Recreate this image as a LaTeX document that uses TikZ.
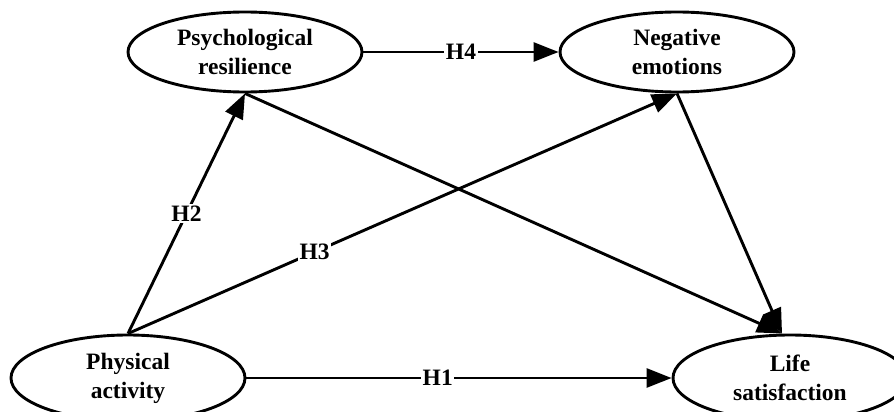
\documentclass[tikz,border=0pt]{standalone}
\usepackage{fontspec}
\setmainfont{Liberation Serif}
\usetikzlibrary{shapes.geometric,arrows.meta}
\begin{document}
\begin{tikzpicture}[x=1pt,y=-1pt,
  latent/.style={ellipse,draw,line width=2.9pt,minimum width=234pt,minimum height=80pt,inner sep=0pt,align=center,font=\fontsize{23.5}{29}\selectfont\bfseries},
  conn/.style={line width=2.9pt,-{Triangle[length=25pt,width=19pt]}},
  hlab/.style={fill=white,inner sep=1.5pt,font=\fontsize{23.5}{26}\selectfont\bfseries}]
\useasboundingbox (0,0) rectangle (894,412);
\clip (0,0) rectangle (894,412);
\node[latent] (pr) at (245,52) {Psychological\\resilience};
\node[latent] (ne) at (677,52) {Negative\\emotions};
\node[latent,minimum height=86pt] (pa) at (128,378) {Physical\\activity};
\node[latent,minimum height=86pt] (ls) at (790,378) {Life\\satisfaction};
\draw[conn] (pr.east) -- node[hlab]{H4} (ne.west);
\draw[conn] (pa.east) -- node[hlab,pos=0.45]{H1} (ls.west);
\draw[conn] (pa.north) -- node[hlab,pos=0.5]{H2} (pr.south);
\draw[conn] (pa.north) -- node[hlab,pos=0.34]{H3} (ne.south);
\draw[conn] (pr.south) -- ([xshift=-8pt]ls.north);
\draw[conn] (ne.south) -- ([xshift=-8pt]ls.north);
\end{tikzpicture}
\end{document}
